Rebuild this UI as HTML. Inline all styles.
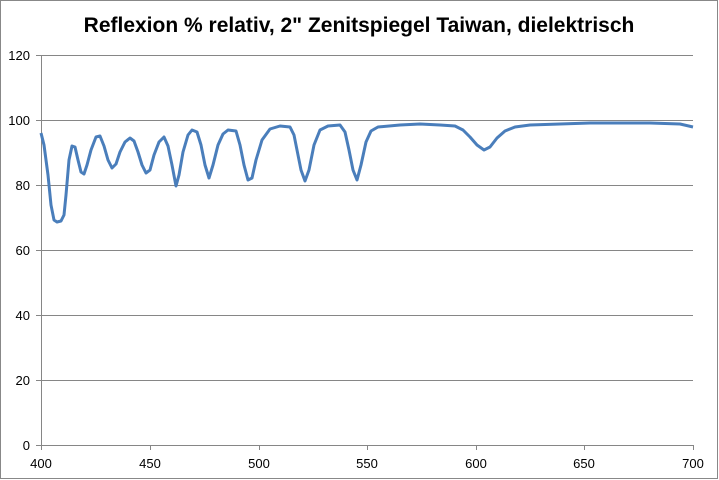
<!DOCTYPE html>
<html><head><meta charset="utf-8"><style>
html,body{margin:0;padding:0;background:#fff;}
svg{display:block;}
text{font-family:"Liberation Sans",sans-serif;}
</style></head><body>
<svg width="719" height="480" viewBox="0 0 719 480" xmlns="http://www.w3.org/2000/svg">
<rect x="0.5" y="0.5" width="717" height="478" fill="#fff" stroke="#888" stroke-width="1"/>
<text x="359" y="32" text-anchor="middle" font-size="21" font-weight="bold" fill="#000">Reflexion % relativ, 2" Zenitspiegel Taiwan, dielektrisch</text>
<g stroke="#868686" stroke-width="1">
<line x1="41" y1="55.5" x2="693" y2="55.5"/>
<line x1="41" y1="120.5" x2="693" y2="120.5"/>
<line x1="41" y1="185.5" x2="693" y2="185.5"/>
<line x1="41" y1="250.5" x2="693" y2="250.5"/>
<line x1="41" y1="315.5" x2="693" y2="315.5"/>
<line x1="41" y1="380.5" x2="693" y2="380.5"/>
<line x1="36" y1="445.5" x2="693" y2="445.5"/>
<line x1="41.5" y1="55" x2="41.5" y2="450"/>
<line x1="36" y1="55.5" x2="41" y2="55.5"/>
<line x1="36" y1="120.5" x2="41" y2="120.5"/>
<line x1="36" y1="185.5" x2="41" y2="185.5"/>
<line x1="36" y1="250.5" x2="41" y2="250.5"/>
<line x1="36" y1="315.5" x2="41" y2="315.5"/>
<line x1="36" y1="380.5" x2="41" y2="380.5"/>
<line x1="150.5" y1="445" x2="150.5" y2="450"/>
<line x1="259.5" y1="445" x2="259.5" y2="450"/>
<line x1="367.5" y1="445" x2="367.5" y2="450"/>
<line x1="476.5" y1="445" x2="476.5" y2="450"/>
<line x1="584.5" y1="445" x2="584.5" y2="450"/>
<line x1="693.5" y1="445" x2="693.5" y2="450"/>
</g>
<g font-size="13" fill="#000" text-anchor="end">
<text x="30" y="60">120</text><text x="30" y="125">100</text><text x="30" y="190">80</text>
<text x="30" y="255">60</text><text x="30" y="320">40</text><text x="30" y="385">20</text><text x="30" y="450">0</text>
</g>
<g font-size="13" fill="#000" text-anchor="middle">
<text x="41" y="468">400</text><text x="150" y="468">450</text><text x="259" y="468">500</text>
<text x="367" y="468">550</text><text x="476" y="468">600</text><text x="584" y="468">650</text><text x="693" y="468">700</text>
</g>
<polyline fill="none" stroke="#4a7ebb" stroke-width="3" stroke-linejoin="round" points="
41,133 44,145 48,175 51,205 54,220 57,222 61,221 64,215 66,195 69,160 72,146 75,147 78,160 81,172 84,174 87,165 91,150 96,137 100,136 104,146 108,160 112,168 116,164 120,152 125,142 130,138 134,141 138,152 142,165 146,173 150,170 154,155 159,142 164,137 168,146 172,165 176,186 179,175 183,152 188,135 192,130 197,132 201,145 205,165 209,178 213,165 218,145 223,134 228,130 236,131 240,145 244,165 248,180 252,178 256,160 262,140 270,129 280,126 290,127 294,135 297,150 301,170 305,181 309,170 314,145 320,130 328,126 340,125 345,132 349,150 353,170 357,180 361,165 366,142 371,131 378,127 400,125 420,124 440,125 455,126 463,130 470,137 477,145 484,150 490,147 497,138 505,131 515,127 530,125 560,124 590,123 620,123 650,123 680,124 693,127"/>
</svg>
</body></html>
